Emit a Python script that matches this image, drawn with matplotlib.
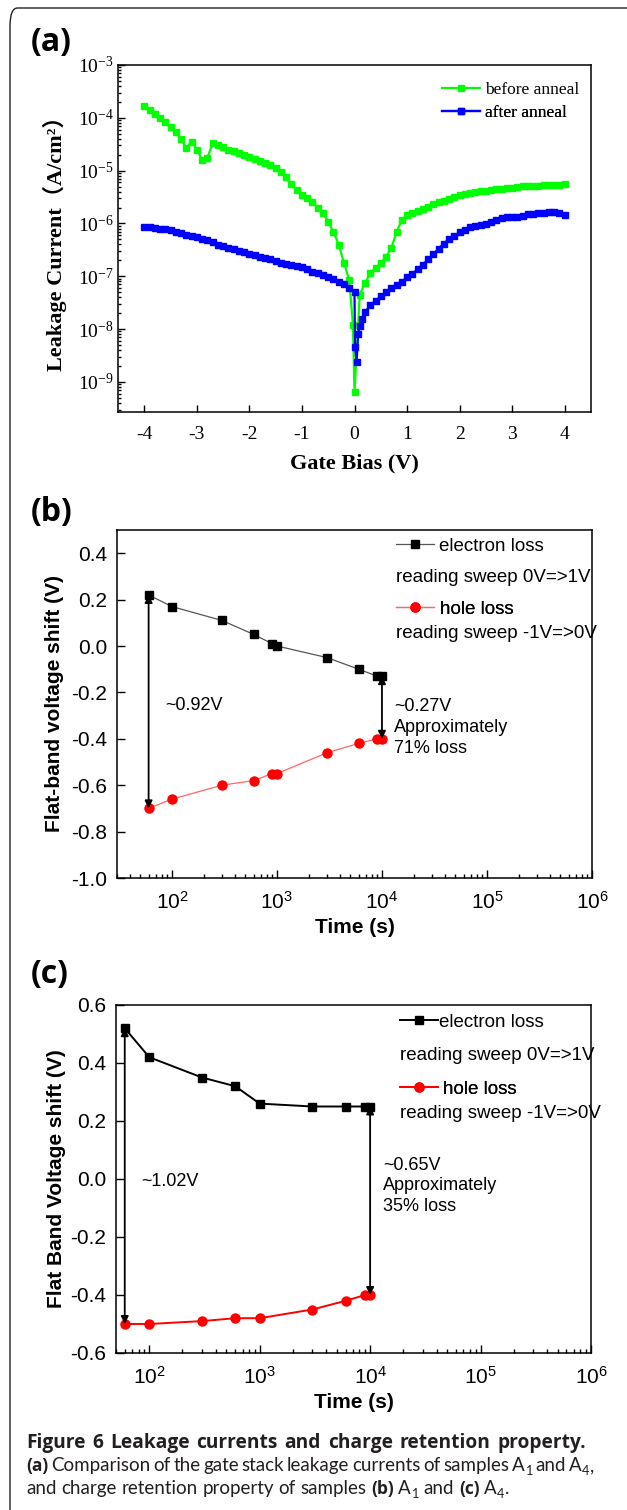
import matplotlib
matplotlib.use("Agg")
import matplotlib.pyplot as plt
import numpy as np
from matplotlib.patches import FancyBboxPatch

plt.rcParams['axes.unicode_minus'] = False
plt.rcParams['mathtext.default'] = 'regular'

# ---------------- data ----------------
# (a) leakage current, log10(J) in A/cm^2
bias_before = [-4.0, -3.9, -3.8, -3.7, -3.6, -3.5, -3.4, -3.3, -3.2, -3.1, -3.0,
               -2.9, -2.8, -2.7, -2.6, -2.5, -2.4, -2.3, -2.2, -2.1, -2.0,
               -1.9, -1.8, -1.7, -1.6, -1.5, -1.4, -1.3, -1.2, -1.1, -1.0,
               -0.9, -0.8, -0.7, -0.6, -0.5, -0.4, -0.3, -0.2, -0.1, -0.03, 0.0,
               0.1, 0.2, 0.3, 0.4, 0.5, 0.6, 0.7, 0.8, 0.9, 1.0,
               1.1, 1.2, 1.3, 1.4, 1.5, 1.6, 1.7, 1.8, 1.9, 2.0,
               2.1, 2.2, 2.3, 2.4, 2.5, 2.6, 2.7, 2.8, 2.9, 3.0,
               3.1, 3.2, 3.3, 3.4, 3.5, 3.6, 3.7, 3.8, 3.9, 4.0]
logJ_before = [-3.78, -3.85, -3.92, -4.00, -4.08, -4.17, -4.27, -4.40, -4.57, -4.45, -4.60,
               -4.80, -4.76, -4.48, -4.52, -4.56, -4.60, -4.63, -4.67, -4.71, -4.74,
               -4.78, -4.82, -4.86, -4.90, -4.95, -5.03, -5.13, -5.26, -5.37, -5.46,
               -5.52, -5.59, -5.71, -5.80, -5.97, -6.16, -6.40, -6.75, -7.07, -7.92, -9.20,
               -7.35, -7.13, -6.94, -6.84, -6.75, -6.63, -6.47, -6.16, -5.94, -5.84,
               -5.80, -5.76, -5.72, -5.68, -5.64, -5.60, -5.57, -5.53, -5.50, -5.47,
               -5.45, -5.43, -5.41, -5.39, -5.38, -5.36, -5.35, -5.34, -5.33, -5.32,
               -5.31, -5.30, -5.30, -5.29, -5.29, -5.28, -5.28, -5.27, -5.27, -5.26]

bias_after = [-4.0, -3.9, -3.8, -3.7, -3.6, -3.5, -3.4, -3.3, -3.2, -3.1, -3.0,
              -2.9, -2.8, -2.7, -2.6, -2.5, -2.4, -2.3, -2.2, -2.1, -2.0,
              -1.9, -1.8, -1.7, -1.6, -1.5, -1.4, -1.3, -1.2, -1.1, -1.0,
              -0.9, -0.8, -0.7, -0.6, -0.5, -0.4, -0.3, -0.2, -0.1, 0.0,
              0.01, 0.04, 0.07, 0.1, 0.15, 0.2, 0.3, 0.4, 0.5, 0.6, 0.7, 0.8, 0.9, 1.0,
              1.1, 1.2, 1.3, 1.4, 1.5, 1.6, 1.7, 1.8, 1.9, 2.0,
              2.1, 2.2, 2.3, 2.4, 2.5, 2.6, 2.7, 2.8, 2.9, 3.0,
              3.1, 3.2, 3.3, 3.4, 3.5, 3.6, 3.7, 3.8, 3.9, 4.0]
logJ_after = [-6.06, -6.07, -6.08, -6.10, -6.11, -6.13, -6.17, -6.19, -6.21, -6.23, -6.26,
              -6.29, -6.32, -6.36, -6.40, -6.43, -6.46, -6.49, -6.52, -6.55, -6.58,
              -6.60, -6.63, -6.65, -6.68, -6.71, -6.74, -6.77, -6.79, -6.81, -6.83,
              -6.87, -6.91, -6.94, -6.98, -7.02, -7.06, -7.10, -7.15, -7.22, -7.30,
              -8.34, -8.62, -8.10, -7.95, -7.80, -7.68, -7.55, -7.46, -7.38, -7.30, -7.23, -7.16, -7.10, -7.02,
              -6.95, -6.87, -6.78, -6.68, -6.58, -6.48, -6.38, -6.29, -6.23, -6.17,
              -6.12, -6.07, -6.05, -6.03, -6.01, -5.98, -5.94, -5.90, -5.88, -5.88,
              -5.87, -5.85, -5.83, -5.82, -5.81, -5.80, -5.79, -5.79, -5.80, -5.84]

# (b) sample A1 retention
time_b = [60, 100, 300, 600, 900, 1000, 3000, 6000, 9000, 10000]
electron_b = [0.22, 0.17, 0.11, 0.05, 0.01, 0.00, -0.05, -0.10, -0.13, -0.13]
hole_b = [-0.70, -0.66, -0.60, -0.58, -0.55, -0.55, -0.46, -0.42, -0.40, -0.40]
yticks_b = [-1.0, -0.8, -0.6, -0.4, -0.2, 0.0, 0.2, 0.4]

# (c) sample A4 retention
time_c = [60, 100, 300, 600, 1000, 3000, 6000, 9000, 10000]
electron_c = [0.52, 0.42, 0.35, 0.32, 0.26, 0.25, 0.25, 0.25, 0.25]
hole_c = [-0.50, -0.50, -0.49, -0.48, -0.48, -0.45, -0.42, -0.40, -0.40]
yticks_c = [-0.6, -0.4, -0.2, 0.0, 0.2, 0.4, 0.6]

# ---------------- layout helpers ----------------
W, H = 627, 1510
fig = plt.figure(figsize=(W / 100, H / 100), dpi=100)
fig.patch.set_facecolor('white')


def axrect(l, t, r, b):
    return [l / W, 1 - b / H, (r - l) / W, (b - t) / H]


SERIF = 'Liberation Serif'
SANS = 'Liberation Sans'
CAP = ['Lato', 'DejaVu Sans']
CAPB = ['Open Sans', 'DejaVu Sans']
LBL = ['Open Sans', 'DejaVu Sans']

# frame around the figure
frame = FancyBboxPatch((10 / W, 1 - 1530 / H), 640 / W, 1522 / H,
                       boxstyle='round,pad=0,rounding_size=0.012',
                       transform=fig.transFigure, fill=False, ec='#222222', lw=1.0,
                       clip_on=False)
fig.patches.append(frame)


def single_legend(ax, handle, label, x, y, fs, family, hl=2.0, htp=0.35):
    lg = ax.legend([handle], [label], loc='center left', bbox_to_anchor=(x, y),
                   bbox_transform=ax.transAxes, frameon=False, borderpad=0,
                   borderaxespad=0, handlelength=hl, handletextpad=htp,
                   numpoints=1, prop={'family': family, 'size': fs})
    ax.add_artist(lg)
    return lg


def style_axes(ax, family, fs, major=5, minor=2.5):
    ax.tick_params(which='both', direction='in', top=False, right=False,
                   labelsize=fs, labelfontfamily=family, width=1.0)
    ax.tick_params(which='major', length=major)
    ax.tick_params(which='minor', length=minor)
    for s in ax.spines.values():
        s.set_linewidth(1.1)

# ---------------- panel (a) ----------------
ax1 = fig.add_axes(axrect(118, 65, 591, 412))
l_before, = ax1.plot(bias_before, 10 ** np.array(logJ_before), '-s', color='#00ff00',
                     ms=5.0, lw=1.6, mec='#00ff00')
l_after, = ax1.plot(bias_after, 10 ** np.array(logJ_after), '-s', color='#0000ff',
                    ms=5.0, lw=1.6, mec='#0000ff')
ax1.set_yscale('log')
ax1.set_xlim(-4.5, 4.5)
ax1.set_ylim(10 ** -9.57, 1e-3)
ax1.set_xticks([-4, -3, -2, -1, 0, 1, 2, 3, 4])
style_axes(ax1, SERIF, 14, major=5, minor=2.5)
ax1.tick_params(axis='x', pad=10)
ax1.tick_params(axis='y', pad=3)
ax1.set_xlabel('Gate Bias (V)', family=SERIF, fontweight='bold', fontsize=16)
ax1.set_ylabel('Leakage Current（A/cm²）', family=[SERIF, 'Noto Sans CJK SC'],
               fontweight='bold', fontsize=16)
ax1.xaxis.set_label_coords(0.5, (412 - 463) / 347)
ax1.xaxis.label.set_va('center')
ax1.yaxis.set_label_coords((55 - 118) / 473, 0.5)
ax1.yaxis.label.set_va('center')
single_legend(ax1, l_before, 'before anneal', (442 - 118) / 473, (412 - 90) / 347, 12.5, SERIF, hl=2.2, htp=0.3)
single_legend(ax1, l_after, 'after anneal', (442 - 118) / 473, (412 - 113) / 347, 12.5, SERIF, hl=2.2, htp=0.3)
fig.text(31 / W, 1 - 43 / H, '(a)', family=LBL, fontweight='bold', fontsize=23,
         ha='left', va='center')

# ---------------- panel (b) ----------------
ax2 = fig.add_axes(axrect(117, 530, 592, 878))
le_b, = ax2.plot(time_b, electron_b, '-', color='#555555', lw=0.9,
                 marker='s', ms=5.5, mfc='black', mec='black')
lh_b, = ax2.plot(time_b, hole_b, '-', color='#ff6666', lw=0.9,
                 marker='o', ms=6.5, mfc='#ff0000', mec='#ff0000')
ax2.set_xscale('log')
ax2.set_xlim(30, 1e6)
ax2.set_ylim(-1.0, 0.5)
ax2.set_yticks(yticks_b)
ax2.set_yticklabels(['%.1f' % v for v in yticks_b])
style_axes(ax2, SANS, 15, major=6, minor=3)
ax2.tick_params(axis='x', pad=9)
ax2.tick_params(axis='y', pad=7)
ax2.set_xlabel('Time (s)', family=SANS, fontweight='bold', fontsize=15)
ax2.set_ylabel('Flat-band voltage shift (V)', family=SANS, fontweight='bold', fontsize=15)
ax2.xaxis.set_label_coords(0.5, (878 - 927) / 348)
ax2.xaxis.label.set_va('center')
ax2.yaxis.set_label_coords((55 - 117) / 475, 0.5)
ax2.yaxis.label.set_va('center')
arrow_kw = dict(arrowstyle='<|-|>', color='black', lw=1.3, mutation_scale=11,
                shrinkA=0, shrinkB=0)
ax2.annotate('', xy=(time_b[0], hole_b[0]), xytext=(time_b[0], electron_b[0]),
             arrowprops=arrow_kw)
ax2.annotate('', xy=(time_b[-1], hole_b[-1]), xytext=(time_b[-1], electron_b[-1]),
             arrowprops=arrow_kw)
ax2.text(86, -0.255, '~0.92V', family=SANS, fontsize=13, ha='left', va='center')
ax2.text(1.3e4, -0.35, '~0.27V\nApproximately\n71% loss', family=SANS, fontsize=13,
         ha='left', va='center', linespacing=1.3)
bx = (396 - 117) / 475
single_legend(ax2, le_b, 'electron loss', bx, (878 - 546) / 348, 13.5, SANS, hl=2.0, htp=0.3)
single_legend(ax2, lh_b, 'hole loss', bx, (878 - 609) / 348, 13.5, SANS, hl=2.0, htp=0.35)
ax2.text(bx, (878 - 577) / 348, 'reading sweep 0V=>1V', transform=ax2.transAxes,
         family=SANS, fontsize=13.5, ha='left', va='center')
ax2.text(bx, (878 - 633) / 348, 'reading sweep -1V=>0V', transform=ax2.transAxes,
         family=SANS, fontsize=13.5, ha='left', va='center')
fig.text(31 / W, 1 - 512 / H, '(b)', family=LBL, fontweight='bold', fontsize=23,
         ha='left', va='center')

# ---------------- panel (c) ----------------
ax3 = fig.add_axes(axrect(116, 1005, 591, 1353))
le_c, = ax3.plot(time_c, electron_c, '-', color='black', lw=1.4,
                 marker='s', ms=5.5, mfc='black', mec='black')
lh_c, = ax3.plot(time_c, hole_c, '-', color='#ff0000', lw=1.4,
                 marker='o', ms=6.5, mfc='#ff0000', mec='#ff0000')
ax3.set_xscale('log')
ax3.set_xlim(50, 1e6)
ax3.set_ylim(-0.6, 0.6)
ax3.set_yticks(yticks_c)
ax3.set_yticklabels(['%.1f' % v for v in yticks_c])
style_axes(ax3, SANS, 15, major=6, minor=3)
ax3.tick_params(axis='x', pad=9)
ax3.tick_params(axis='y', pad=7)
ax3.set_xlabel('Time (s)', family=SANS, fontweight='bold', fontsize=15)
ax3.set_ylabel('Flat Band Voltage shift (V)', family=SANS, fontweight='bold', fontsize=15)
ax3.xaxis.set_label_coords(0.5, (1353 - 1402) / 348)
ax3.xaxis.label.set_va('center')
ax3.yaxis.set_label_coords((56 - 116) / 475, 0.5)
ax3.yaxis.label.set_va('center')
ax3.annotate('', xy=(time_c[0], hole_c[0]), xytext=(time_c[0], electron_c[0]),
             arrowprops=arrow_kw)
ax3.annotate('', xy=(time_c[-1], hole_c[-1]), xytext=(time_c[-1], electron_c[-1]),
             arrowprops=arrow_kw)
ax3.text(85, -0.01, '~1.02V', family=SANS, fontsize=13, ha='left', va='center')
ax3.text(1.31e4, -0.024, '~0.65V\nApproximately\n35% loss', family=SANS, fontsize=13,
         ha='left', va='center', linespacing=1.3)
cx = (400 - 116) / 475
single_legend(ax3, le_c, 'electron loss', cx, (1353 - 1022) / 348, 13.5, SANS, hl=2.0, htp=0.1)
single_legend(ax3, lh_c, 'hole loss', cx, (1353 - 1089) / 348, 13.5, SANS, hl=2.0, htp=0.3)
ax3.text(cx, (1353 - 1055) / 348, 'reading sweep 0V=>1V', transform=ax3.transAxes,
         family=SANS, fontsize=13.5, ha='left', va='center')
ax3.text(cx, (1353 - 1113) / 348, 'reading sweep -1V=>0V', transform=ax3.transAxes,
         family=SANS, fontsize=13.5, ha='left', va='center')
fig.text(31 / W, 1 - 974 / H, '(c)', family=LBL, fontweight='bold', fontsize=23,
         ha='left', va='center')

# ---------------- caption ----------------
renderer = fig.canvas.get_renderer()


def rich_line(y_base, pieces, fs, x0, x1=None, fsb=None):
    """pieces: (text, style, gap_before); style b=bold, r=regular, s=subscript"""
    fsb = fs if fsb is None else fsb
    arts = []
    for txt, st, gap in pieces:
        if st == 'b':
            t = fig.text(0, 0, txt, family=CAPB, fontsize=fsb, fontweight='bold',
                         color='#231f20', ha='left', va='baseline')
        else:
            size = fs * 0.68 if st == 's' else fs
            t = fig.text(0, 0, txt, family=CAP, fontsize=size, fontweight='normal',
                         color='#231f20', ha='left', va='baseline')
        w = t.get_window_extent(renderer).width
        arts.append((t, st, gap, w))
    space = fs * 0.25 * 100 / 72
    ngap = sum(1 for a in arts if a[2])
    natural = sum(a[3] for a in arts) + ngap * space
    if x1 is not None and ngap:
        space = max(space * 0.6, space + (x1 - x0 - natural) / ngap)
    x = x0
    for t, st, gap, w in arts:
        if gap:
            x += space
        yb = y_base + (4 if st == 's' else 0)
        t.set_position((x / W, 1 - yb / H))
        x += w + (0.5 if st == 's' else 0)


FS = 13.5
line1 = [('Figure', 'b', False), ('6', 'b', True), ('Leakage', 'b', True),
         ('currents', 'b', True), ('and', 'b', True), ('charge', 'b', True),
         ('retention', 'b', True), ('property.', 'b', True)]
rich_line(1448, line1, FS, 26, 586, fsb=13.8)
line2 = [('(a)', 'b', False), ('Comparison', 'r', True), ('of', 'r', True), ('the', 'r', True),
         ('gate', 'r', True), ('stack', 'r', True), ('leakage', 'r', True),
         ('currents', 'r', True), ('of', 'r', True), ('samples', 'r', True),
         ('A', 'r', True), ('1', 's', False), ('and', 'r', True), ('A', 'r', True),
         ('4', 's', False), (',', 'r', False)]
rich_line(1471, line2, FS, 26, 586, fsb=12.5)
line3 = [('and', 'r', False), ('charge', 'r', True), ('retention', 'r', True),
         ('property', 'r', True), ('of', 'r', True), ('samples', 'r', True),
         ('(b)', 'b', True), ('A', 'r', True), ('1', 's', False), ('and', 'r', True),
         ('(c)', 'b', True), ('A', 'r', True), ('4', 's', False), ('.', 'r', False)]
rich_line(1494, line3, FS, 26, fsb=12.5)

fig.savefig('out.png', dpi=100, facecolor='white')
